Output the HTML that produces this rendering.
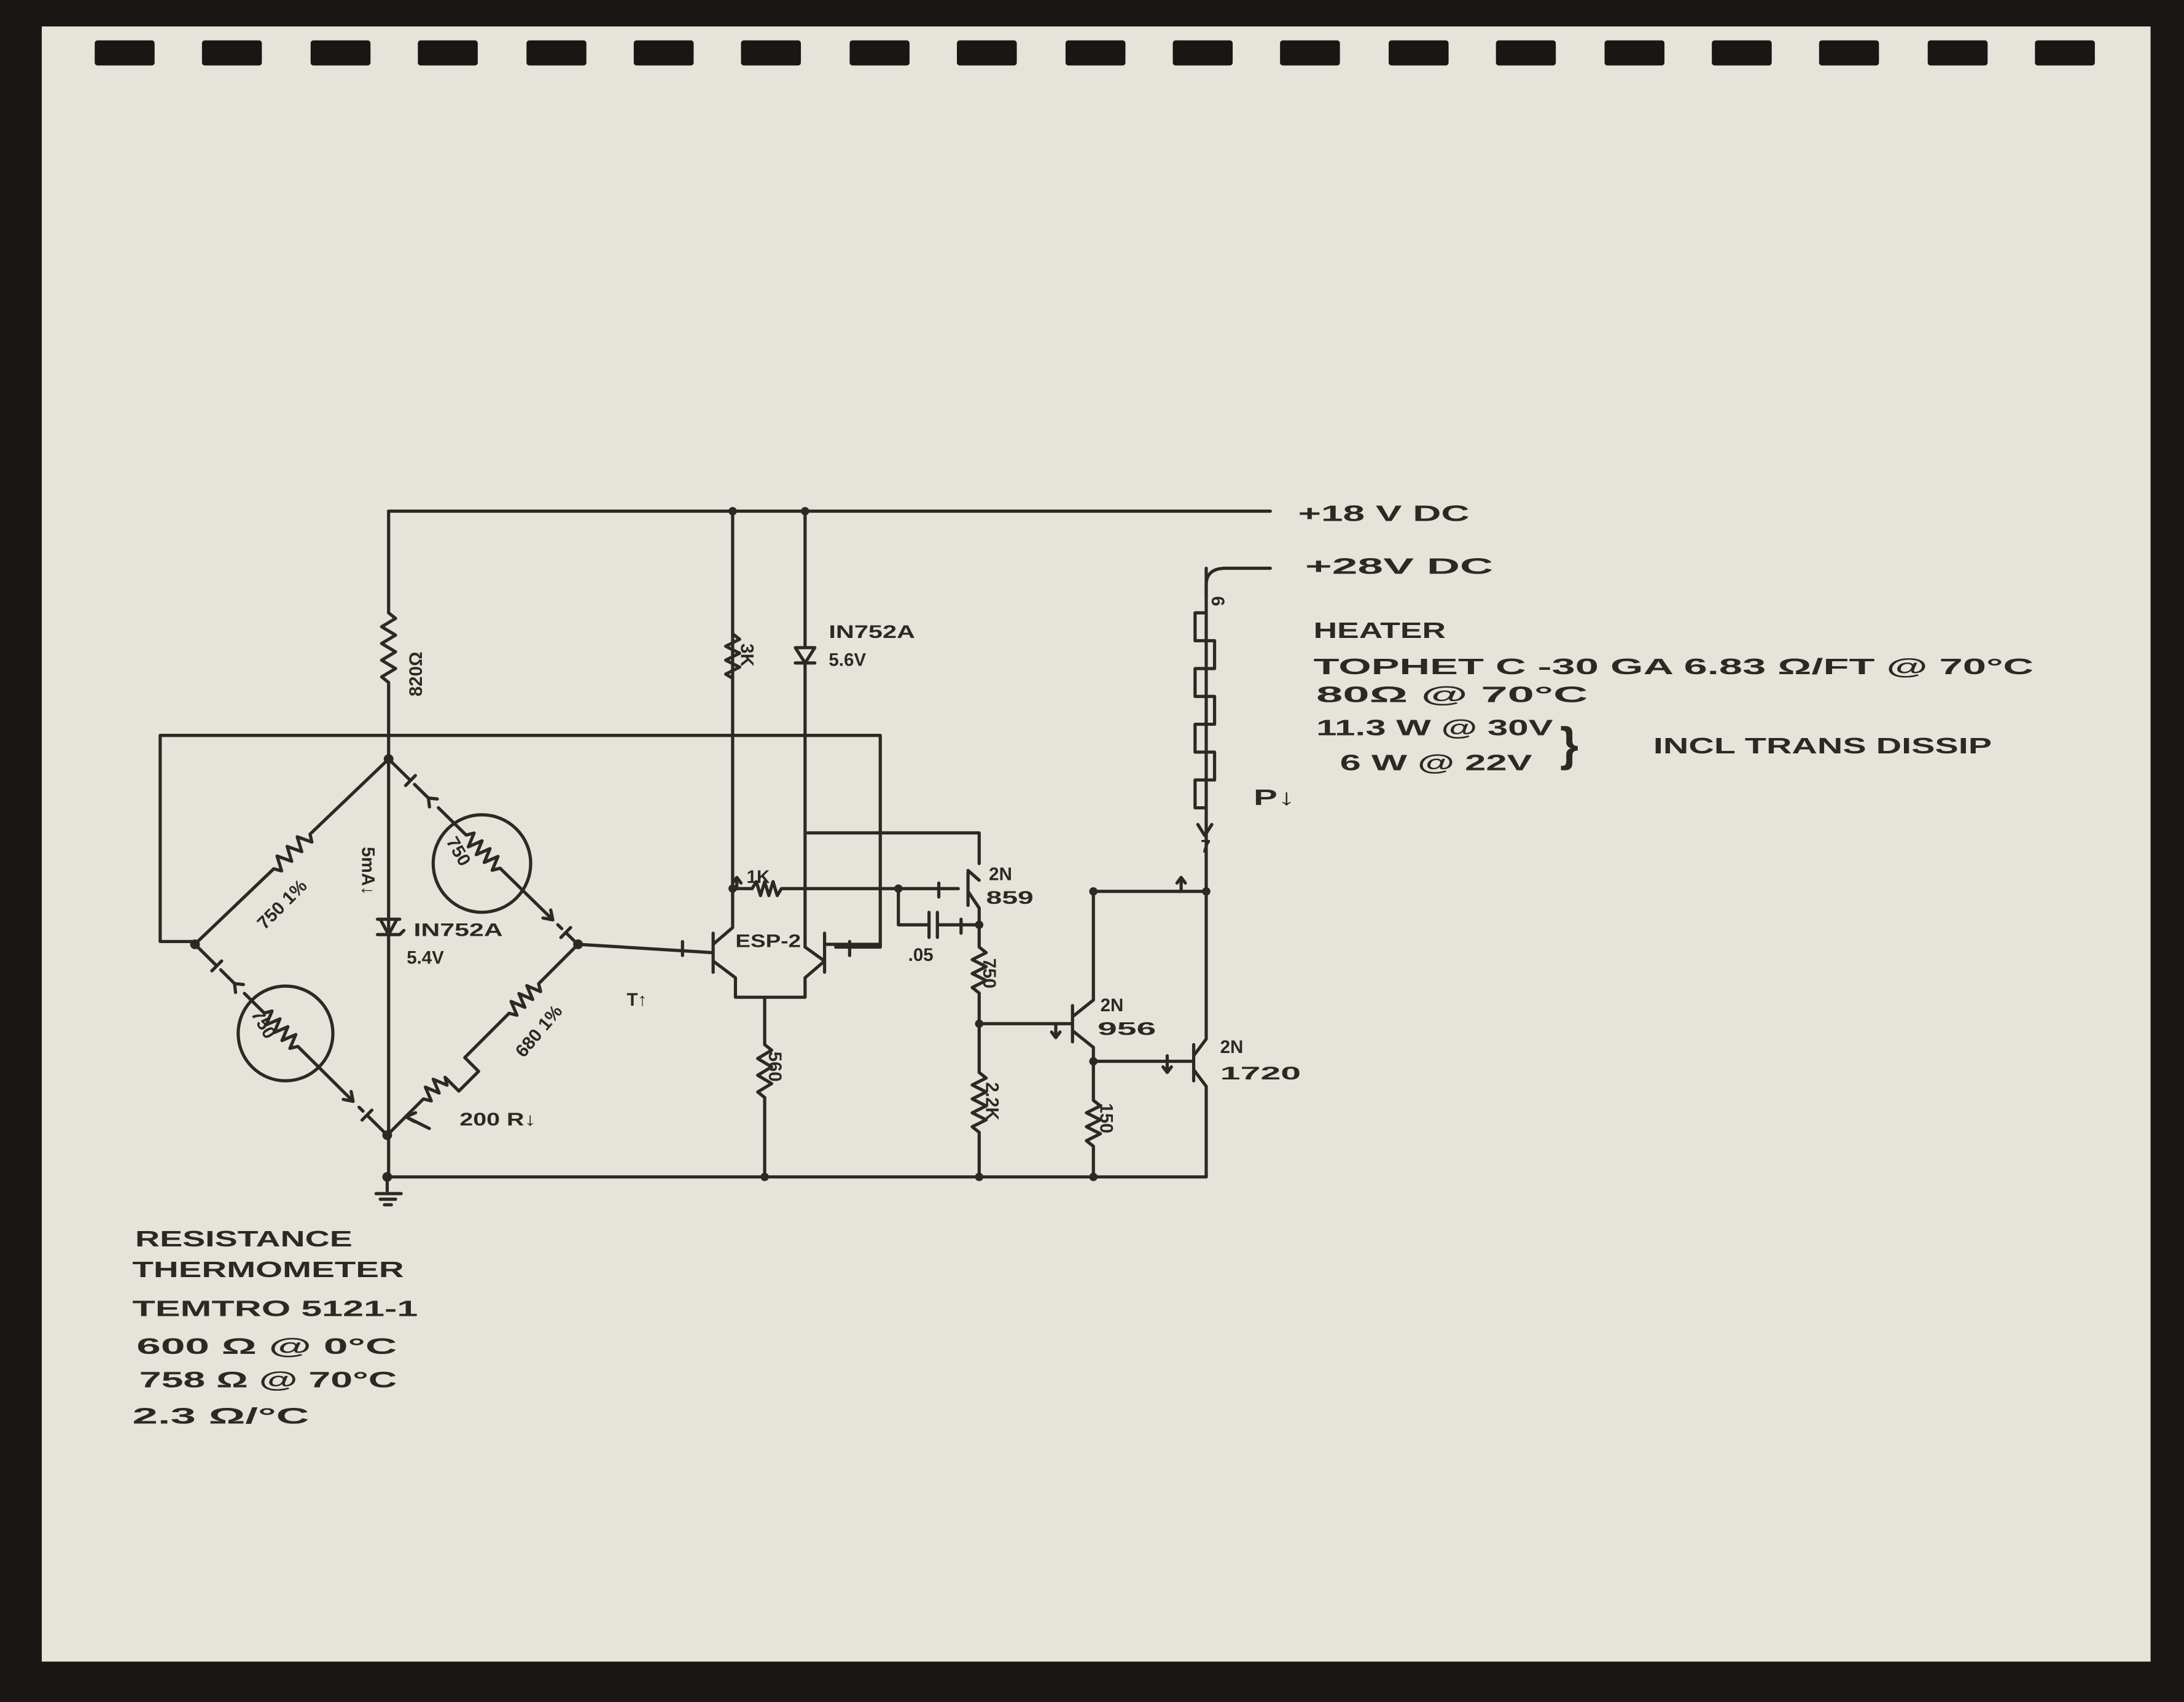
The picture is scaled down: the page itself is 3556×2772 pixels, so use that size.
<!DOCTYPE html>
<html><head><meta charset="utf-8"><style>
html,body{margin:0;padding:0;background:#1a1614;}
svg{display:block;}
text{font-family:"Liberation Sans",sans-serif;fill:#2e2824;font-weight:bold;}
</style></head><body>
<svg width="3556" height="2772" viewBox="0 0 1568 1222" preserveAspectRatio="none" xmlns="http://www.w3.org/2000/svg">
<rect x="0" y="0" width="1568" height="1222" fill="#1a1614"/>
<rect x="30" y="19" width="1514" height="1174" fill="#e6e3da"/>
<g fill="#1a1614">
<rect x="68" y="29" width="43" height="18" rx="2"/>
<rect x="145" y="29" width="43" height="18" rx="2"/>
<rect x="223" y="29" width="43" height="18" rx="2"/>
<rect x="300" y="29" width="43" height="18" rx="2"/>
<rect x="378" y="29" width="43" height="18" rx="2"/>
<rect x="455" y="29" width="43" height="18" rx="2"/>
<rect x="532" y="29" width="43" height="18" rx="2"/>
<rect x="610" y="29" width="43" height="18" rx="2"/>
<rect x="687" y="29" width="43" height="18" rx="2"/>
<rect x="765" y="29" width="43" height="18" rx="2"/>
<rect x="842" y="29" width="43" height="18" rx="2"/>
<rect x="919" y="29" width="43" height="18" rx="2"/>
<rect x="997" y="29" width="43" height="18" rx="2"/>
<rect x="1074" y="29" width="43" height="18" rx="2"/>
<rect x="1152" y="29" width="43" height="18" rx="2"/>
<rect x="1229" y="29" width="43" height="18" rx="2"/>
<rect x="1306" y="29" width="43" height="18" rx="2"/>
<rect x="1384" y="29" width="43" height="18" rx="2"/>
<rect x="1461" y="29" width="43" height="18" rx="2"/>
</g>
<g stroke="#2e2824" stroke-width="2.3" fill="none" stroke-linecap="round" stroke-linejoin="round">
<path d="M279 367 H912"/>
<path d="M279 367 V440 l5 4 l-10 6 l10 6 l-10 6 l10 6 l-10 6 l10 6 l-10 6 l5 4 V545"/>
<path d="M279 528 H115 V676 H140 M279 528 H632 V680 H600"/>
<g transform="translate(279,545) rotate(136.3)">
<path d="M0 0 H78 l3 -5 l5 10 l5 -10 l5 10 l5 -10 l5 10 l5 -10 l3 5 H192"/>
</g>
<g transform="translate(279,545) rotate(44.4)">
<path d="M0 0 H22 M22 -5 V5 M26 0 H40 M40 0 l5 -4 M40 0 l5 4"/>
<path d="M50 0 H78 l3 -5 l4 10 l4 -10 l4 10 l4 -10 l4 10 l4 -10 l4 10 l3 -5 H165 M165 0 l-6 -4 M165 0 l-6 4 M170 0 h4 M178 -5 V5 M178 0 H190"/>
</g>
<g transform="translate(140,678) rotate(44.8)">
<path d="M0 0 H22 M22 -5 V5 M26 0 H40 M40 0 l5 -4 M40 0 l5 4"/>
<path d="M50 0 H70 l3 -5 l4 10 l4 -10 l4 10 l4 -10 l4 10 l4 -10 l4 10 l3 -5 H160 M160 0 l-6 -4 M160 0 l-6 4 M166 0 h4 M174 -5 V5 M174 0 H194"/>
</g>
<g transform="translate(415,678) rotate(135)">
<path d="M0 0 H40 l3 -5 l4 10 l4 -10 l4 10 l4 -10 l4 10 l4 -10 l3 5 H115 l0 -14 l20 0 l0 14 l3 -5 l4 10 l4 -10 l4 10 l4 -10 l3 5 H194"/>
<path d="M175 0 l-6 -18 M175 0 l-2 -7 M175 0 l-7 -3"/>
</g>
<circle cx="205" cy="742" r="34"/>
<circle cx="346" cy="620" r="35"/>
<path d="M279 545 V845"/>
<path d="M271 660 H287 M273 660 L279 671 L285 660 M271 671 H287 l3 -3"/>
<path d="M278 845 V855 M270 857 H288 M273 861 H284 M276 865 H281"/>
<path d="M415 678 L512 684 M490 676 v10 M512 670 V698 M512 678 L526 666 V367 M512 690 L528 702 V716 H578 V702 L592 690 M592 670 V698 M592 678 H632"/>
<path d="M578 367 V465 M571 465 L578 476 L585 465 Z M571 476 H585 M578 476 V680 L592 690"/>
<path d="M526 455 l5 4 l-10 5 l10 5 l-10 5 l10 5 l-10 5 l5 3"/>
<path d="M549 716 V750 l5 4 l-10 6 l10 6 l-10 6 l10 6 l-10 6 l5 4 V845"/>
<path d="M278 845 H866"/>
<path d="M526 638 H540 l3 -5 l3 10 l3 -10 l3 10 l3 -10 l3 10 l3 -5 H645 H688"/>
<path d="M580 598 H703 V620 M703 632 L695 625 M695 626 V650 M695 640 L703 652 V664"/>
<path d="M645 638 V664 H667 M667 655 V673 M673 655 V673 M673 664 H703"/>
<path d="M703 664 V680 l5 4 l-10 5 l10 5 l-10 5 l10 5 l-10 5 l5 4 V735 V770 l5 4 l-10 5 l10 5 l-10 5 l10 5 l-10 5 l10 5 l-10 5 l5 4 V845"/>
<path d="M703 735 H770 M770 722 V748 M770 730 L785 718 V640 H866 M770 740 L785 752 V762 H857 M857 750 V776 M857 758 L866 746 V408 M857 768 L866 780 V845"/>
<path d="M785 762 V790 l5 4 l-10 5 l10 5 l-10 5 l10 5 l-10 5 l5 4 V845"/>
<path d="M866 428 V420 Q866 408 880 408 H912"/>
<path d="M866 440 H858 V460 H872 V480 H858 V500 H872 V520 H858 V540 H872 V560 H858 V580 H866"/>
<path d="M848 640 V630 M845 634 L848 630 L851 634 M838 758 V770 M835 766 L838 770 L841 766 M758 735 V745 M755 741 L758 745 L761 741 M674 634 V644 M690 660 V670 M529 638 V630 M526 634 L529 630 L532 634 M610 676 V686 M865 600 L860 592 M865 600 L870 592"/>
</g>
<g fill="#2e2824">
<circle cx="279" cy="545" r="3.5"/><circle cx="140" cy="678" r="3.5"/><circle cx="415" cy="678" r="3.5"/><circle cx="278" cy="815" r="3.5"/><circle cx="278" cy="845" r="3.5"/>
<circle cx="526" cy="367" r="3"/><circle cx="578" cy="367" r="3"/><circle cx="526" cy="638" r="3"/><circle cx="645" cy="638" r="3"/><circle cx="703" cy="664" r="3"/><circle cx="703" cy="735" r="3"/><circle cx="785" cy="762" r="3"/><circle cx="866" cy="640" r="3"/><circle cx="549" cy="845" r="3"/><circle cx="703" cy="845" r="3"/><circle cx="785" cy="845" r="3"/><circle cx="785" cy="640" r="3"/>
</g>
<g font-size="16">
<text x="932" y="374" textLength="123" lengthAdjust="spacingAndGlyphs">+18 V DC</text>
<text x="937" y="412" textLength="135" lengthAdjust="spacingAndGlyphs">+28V  DC</text>
<text x="943" y="458" textLength="95" lengthAdjust="spacingAndGlyphs">HEATER</text>
<text x="943" y="484" textLength="517" lengthAdjust="spacingAndGlyphs">TOPHET C -30 GA  6.83 Ω/FT @ 70°C</text>
<text x="945" y="504" textLength="195" lengthAdjust="spacingAndGlyphs">80Ω  @ 70°C</text>
<text x="945" y="528" textLength="170" lengthAdjust="spacingAndGlyphs">11.3 W @ 30V</text>
<text x="962" y="553" textLength="138" lengthAdjust="spacingAndGlyphs">6 W @ 22V</text>
<text x="1120" y="546" font-size="34" font-weight="normal">}</text>
<text x="1187" y="541" textLength="243" lengthAdjust="spacingAndGlyphs">INCL TRANS DISSIP</text>
<text x="900" y="578" textLength="30" lengthAdjust="spacingAndGlyphs">P↓</text>
<text x="97" y="895" textLength="156" lengthAdjust="spacingAndGlyphs">RESISTANCE</text>
<text x="95" y="917" textLength="195" lengthAdjust="spacingAndGlyphs">THERMOMETER</text>
<text x="95" y="945" textLength="205" lengthAdjust="spacingAndGlyphs">TEMTRO   5121-1</text>
<text x="98" y="972" textLength="187" lengthAdjust="spacingAndGlyphs">600 Ω  @ 0°C</text>
<text x="100" y="996" textLength="185" lengthAdjust="spacingAndGlyphs">758 Ω  @ 70°C</text>
<text x="95" y="1022" textLength="127" lengthAdjust="spacingAndGlyphs">2.3 Ω/°C</text>
</g>
<g font-size="13">
<text x="595" y="458" textLength="62" lengthAdjust="spacingAndGlyphs">IN752A</text>
<text x="595" y="478">5.6V</text>
<text x="297" y="672" textLength="64" lengthAdjust="spacingAndGlyphs">IN752A</text>
<text x="292" y="692">5.4V</text>
<text x="536" y="634">1K</text>
<text x="528" y="680" textLength="47" lengthAdjust="spacingAndGlyphs">ESP-2</text>
<text x="652" y="690">.05</text>
<text x="710" y="632">2N</text>
<text x="708" y="649" textLength="34" lengthAdjust="spacingAndGlyphs">859</text>
<text x="790" y="726">2N</text>
<text x="788" y="743" textLength="42" lengthAdjust="spacingAndGlyphs">956</text>
<text x="876" y="756">2N</text>
<text x="876" y="775" textLength="58" lengthAdjust="spacingAndGlyphs">1720</text>
<text x="450" y="722">T↑</text>
<text x="330" y="808" textLength="55" lengthAdjust="spacingAndGlyphs">200 R↓</text>
<text transform="translate(303,500) rotate(-90)">820Ω</text>
<text transform="translate(190,668) rotate(-45)">750 1%</text>
<text transform="translate(376,760) rotate(-50)">680 1%</text>
<text transform="translate(260,608) rotate(90)">5mA↓</text>
<text transform="translate(552,755) rotate(90)">560</text>
<text transform="translate(706,688) rotate(90)">750</text>
<text transform="translate(708,777) rotate(90)">2.2K</text>
<text transform="translate(790,792) rotate(90)">150</text>
<text transform="translate(532,462) rotate(90)">3K</text>
<text transform="translate(180,728) rotate(60)">750</text>
<text transform="translate(320,604) rotate(60)">750</text>
<text transform="translate(870,428) rotate(90)">6</text>
<text x="862" y="612">7</text>
</g>
</svg>
</body></html>
